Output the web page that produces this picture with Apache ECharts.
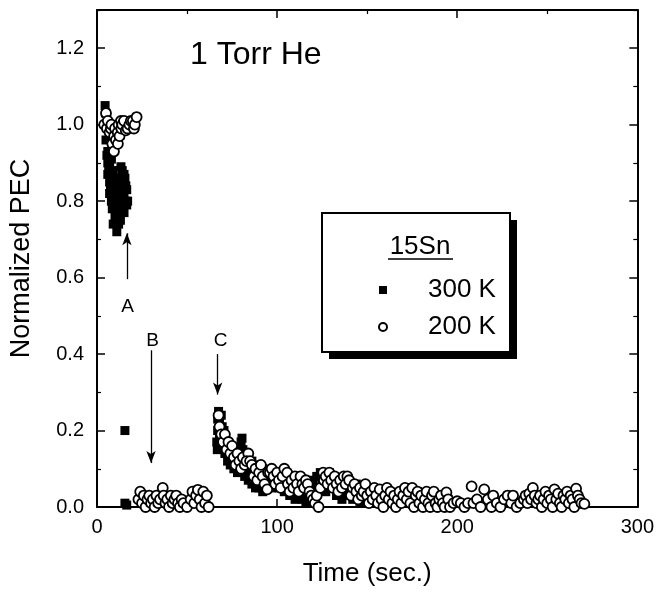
<!DOCTYPE html>
<html><head><meta charset="utf-8">
<script src="https://cdn.jsdelivr.net/npm/echarts@6/dist/echarts.min.js"></script>
<style>html,body{margin:0;padding:0;background:#fff}#c{width:657px;height:592px}</style>
</head><body><div id="c"></div>
<script>
// ---- Data ----
const xTicks = [0, 100, 200, 300];
const yTicks = [0.0, 0.2, 0.4, 0.6, 0.8, 1.0, 1.2];
const seriesNames = ['300 K', '200 K'];
const legendTitle = '15Sn';
const chartNote = '1 Torr He';

// 300 K (filled squares): [time s, normalized PEC]
const pec300K = [
 [4.5,1.05],[5,1.03],[5,0.96],[5.5,0.92],[6,0.90],[6,0.87],[6.5,0.88],[7,0.85],[7,0.82],[7.5,0.84],
 [8,0.80],[8,0.86],[8.5,0.78],[9,0.83],[9,0.74],[9.5,0.80],[10,0.76],[10,0.84],[10.5,0.79],[11,0.82],
 [11,0.72],[11.5,0.77],[12,0.81],[12,0.86],[12.5,0.78],[13,0.83],[13,0.75],[13.3,0.89],[13.5,0.80],[14,0.88],
 [14,0.85],[14.5,0.78],[15,0.82],[15,0.87],[15.5,0.86],[16,0.80],[16,0.84],[16.5,0.83],[17,0.80],
 [6,0.93],[7,0.89],[8,0.91],[9,0.88],[10,0.80],[11,0.86],[12,0.74],[14,0.82],[15,0.77],[16.5,0.79],
 [15.5,0.20],[15.5,0.01],[16.5,0.005],
 [66.5,0.17],[67,0.20],[67,0.23],[67.5,0.25],[68,0.22],[68.5,0.19],[69,0.24],[69.5,0.21],[70,0.18],[70.5,0.20],
 [71,0.16],[72,0.17],[73,0.15],[74,0.16],[75,0.14],[76,0.13],[77,0.15],[78,0.12],[79,0.14],[80,0.17],
 [80.5,0.18],[81,0.15],[81.5,0.12],[82,0.10],[83,0.13],[84,0.11],[85,0.09],[86,0.12],[87,0.10],[88,0.08],
 [66.8,0.15],[68,0.18],[69,0.16],[71,0.14],[72.5,0.12],[74,0.11],[76,0.10],[78,0.09],[80,0.11],[82,0.08],
 [84,0.07],[86,0.06],[88,0.05],[90,0.05],[92,0.04],
 [89,0.11],[90,0.09],[91,0.07],[92,0.10],[93,0.08],[94,0.06],[95,0.09],[96,0.07],[97,0.05],[98,0.08],
 [99,0.06],[100,0.07],[101,0.05],[102,0.08],[103,0.06],[104,0.04],[105,0.07],[106,0.05],[107,0.03],[108,0.06],
 [109,0.04],[110,0.02],[111,0.05],[112,0.03],[113,0.04],[114,0.02],[115,0.03],[116,0.01],[117,0.04],[118,0.06],
 [119,0.03],[120,0.07],[121,0.02],[122,0.08],[123,0.05],[124,0.09],[125,0.06],[126,0.08],[127,0.04],[128,0.07],
 [129,0.09],[130,0.05],[131,0.08],[132,0.06],[133,0.03],[134,0.07],[135,0.05],[136,0.02],[137,0.06],[138,0.04],
 [139,0.07],[140,0.03],[141,0.05],[142,0.02],[143,0.04],[144,0.06],[145,0.03],[146,0.01],[147,0.04],[148,0.02],
 [149,0.05],[150,0.03],[152,0.02],[154,0.04],[156,0.01],[158,0.03],[160,0.02],[162,0.04],[164,0.01],[166,0.03],
 [168,0.02],[170,0.04],[172,0.05],[174,0.03],[176,0.02],[178,0.04],[180,0.01],[182,0.03],[184,0.02],[186,0.01],
 [188,0.03],[190,0.02],[192,0.01],[195,0.02],[198,0.01]
];

// 200 K (open circles): [time s, normalized PEC]
const pec200K = [
 [4,1.00],[5,1.03],[5.5,0.99],[6,1.01],[7,0.98],[7.7,0.99],[8,1.00],[8.5,0.95],[9.4,0.93],[9.5,0.97],
 [10,0.99],[10.5,0.96],[11.6,0.95],[11.5,0.98],[12,1.00],[12.5,0.97],[13.3,1.01],[13.5,0.99],[14,1.00],[15,1.01],
 [16,0.985],[17,0.99],[18,1.00],[18.8,1.01],[19.9,1.01],[20.5,0.99],[21,1.00],[22,1.02],
 [23,0.02],[24,0.04],[25,0.01],[26,0.03],[27,0.00],[28,0.02],[29,0.03],[30,0.01],[31,0.02],[32,0.00],
 [33,0.03],[34,0.01],[35,0.02],[36.5,0.05],[37,0.03],[38,0.01],[39,0.02],[40,0.00],[41,0.03],[42,0.01],
 [43,0.02],[44,0.03],[45,0.01],[46,0.00],[47,0.02],[48,0.01],[50,0.00],[52,0.02],[53,0.04],[54,0.01],
 [55,0.03],[56,0.045],[57,0.02],[58,0.00],[59,0.04],[60,0.01],[61,0.03],[62,0.00],
 [67.5,0.24],[68,0.21],[69,0.19],[70,0.17],[71,0.19],[72,0.15],[73,0.17],[74,0.14],[75,0.16],[76,0.13],
 [77,0.11],[78,0.14],[79,0.12],[80,0.10],[81,0.13],[82,0.11],[84,0.14],[83,0.12],[85,0.12],[86,0.11],
 [87,0.08],[88,0.10],[89,0.07],[90,0.09],[91,0.11],[92,0.08],[93,0.06],[94.5,0.046],[95,0.09],[96,0.09],
 [97,0.10],[98,0.08],[99,0.06],[100,0.09],[101,0.07],[102,0.05],[103,0.08],[104,0.10],[105.6,0.09],[106,0.06],
 [107,0.04],[108,0.07],[109,0.05],[110,0.08],[111,0.06],[112,0.04],[113,0.08],[114,0.06],[115,0.05],[116,0.07],
 [117,0.06],[118,0.04],[119,0.03],[120,0.02],[121,0.01],[122,0.03],[123,0.00],[124,0.05],[125.6,0.09],[126,0.07],
 [127,0.08],[128,0.06],[129,0.09],[130,0.07],[131,0.05],[132,0.08],[133,0.06],[134,0.04],[135,0.07],[136,0.05],
 [137,0.08],[138,0.06],[139,0.08],[140,0.07],[141,0.03],[142,0.05],[143,0.06],[144,0.04],[145,0.02],[146,0.05],
 [147,0.03],[148,0.04],[149,0.06],[150,0.03],[151,0.01],[152,0.04],[153,0.02],[154,0.05],[155,0.03],[156,0.01],
 [157,0.046],[158,0.02],[159,0.00],[160,0.03],[161,0.05],[162,0.02],[163,0.04],[164,0.01],[165,0.03],[166,0.00],
 [167,0.02],[168,0.04],[169,0.01],[170,0.03],[171,0.05],[172,0.02],[173,0.04],[175,0.05],[174,0.01],[176,0.00],
 [177,0.03],[178,0.04],[179,0.01],[180,0.03],[181,0.00],[182,0.02],[183,0.04],[184,0.01],[185,0.00],[186,0.03],
 [187,0.04],[188,0.01],[189,0.00],[190,0.02],[191,0.03],[192,0.01],[193,0.00],[194,0.038],[195,0.02],[196,0.00],
 [198,0.01],[200,0.015],[202,0.01],[204,0.00],[206,0.01],[208,0.054],[209,0.01],[211,0.02],[213,0.00],[215,0.046],
 [217,0.02],[219,0.00],[220,0.03],[222,0.01],[224,0.00],[226,0.02],[228,0.03],[230,0.01],[231,0.03],[233,0.00],
 [235,0.01],[237,0.02],[238,0.03],[239,0.01],[240,0.035],[241,0.02],[242,0.05],[243,0.03],[244,0.01],[245,0.02],
 [246,0.03],[247,0.00],[248,0.02],[249,0.04],[250,0.01],[251,0.03],[252,0.02],[253,0.00],[254,0.046],[255,0.02],
 [256,0.035],[257,0.01],[258,0.00],[259,0.03],[260,0.02],[261,0.04],[262,0.01],[263,0.03],[264,0.02],[265,0.00],
 [266,0.048],[267,0.03],[268,0.02],[269,0.01],[270.6,0.008]
];

// Arrow annotations
const arrowNames = ['A', 'B', 'C'];
const arrowX = [16.6, 30, 67];
const arrowFrom = [0.596, 0.41, 0.40];
const arrowTo = [0.716, 0.115, 0.294];
const arrowLabelPos = [[17, 0.525], [30.8, 0.435], [68.6, 0.435]];

// ---- Chart ----
const FONT = "'Liberation Sans', Arial, Helvetica, sans-serif";
const chart = echarts.init(document.getElementById('c'), null, {renderer: 'canvas'});

const axisCommon = {
  axisLine: {show: true, onZero: false, lineStyle: {color: '#000', width: 2}},
  axisTick: {show: true, inside: true, length: 8, lineStyle: {color: '#000', width: 1.5}},
  minorTick: {show: true, splitNumber: 2, length: 4, lineStyle: {color: '#000', width: 1.2}},
  splitLine: {show: false},
  minorSplitLine: {show: false}
};

const markLineData = arrowNames.map((n, i) => [
  {coord: [arrowX[i], arrowFrom[i]]},
  {coord: [arrowX[i], arrowTo[i]]}
]);

chart.setOption({
  backgroundColor: '#fff',
  animation: false,
  textStyle: {fontFamily: FONT, color: '#000'},
  grid: {left: 96, right: 19, top: 10, bottom: 74, containLabel: false},
  xAxis: [
    Object.assign({}, axisCommon, {
      type: 'value', min: xTicks[0], max: xTicks[xTicks.length - 1], interval: 100,
      position: 'bottom',
      name: 'Time (sec.)', nameLocation: 'middle', nameGap: 54,
      nameTextStyle: {fontSize: 26, color: '#000', fontFamily: FONT},
      axisLabel: {show: true, fontSize: 20, color: '#000', margin: 10, fontFamily: FONT,
        formatter: v => xTicks.includes(v) ? String(v) : ''}
    }),
    Object.assign({}, axisCommon, {
      type: 'value', min: xTicks[0], max: xTicks[xTicks.length - 1], interval: 100,
      position: 'top', axisLabel: {show: false}
    })
  ],
  yAxis: [
    Object.assign({}, axisCommon, {
      type: 'value', min: 0, max: 1.3, interval: 0.2,
      position: 'left',
      name: 'Normalized PEC', nameLocation: 'middle', nameGap: 62,
      nameTextStyle: {fontSize: 27, color: '#000', fontFamily: FONT},
      axisLabel: {show: true, fontSize: 20, color: '#000', margin: 13, fontFamily: FONT,
        showMaxLabel: false,
        formatter: v => yTicks.some(t => Math.abs(t - v) < 1e-9) ? v.toFixed(1) : ''}
    }),
    Object.assign({}, axisCommon, {
      type: 'value', min: 0, max: 1.3, interval: 0.2,
      position: 'right', axisLabel: {show: false}
    })
  ],
  legend: {
    data: seriesNames,
    orient: 'vertical',
    left: 373, top: 270,
    itemWidth: 8, itemHeight: 8, itemGap: 7,
    z: 10,
    selectedMode: false,
    textStyle: {fontSize: 26, color: '#000', fontFamily: FONT, lineHeight: 30, padding: [0, 0, 0, 36]}
  },
  graphic: [
    {type: 'rect', z: 3, shape: {x: 329, y: 220, width: 188, height: 139}, style: {fill: '#000'}},
    {type: 'rect', z: 3, shape: {x: 322, y: 213, width: 188, height: 139}, style: {fill: '#fff', stroke: '#000', lineWidth: 2}},
    {type: 'text', z: 5, style: {text: legendTitle, x: 420, y: 247, textAlign: 'center', textVerticalAlign: 'middle',
      font: '26px ' + FONT, fill: '#000'}},
    {type: 'line', z: 5, shape: {x1: 388, y1: 259, x2: 453, y2: 259}, style: {stroke: '#000', lineWidth: 1.5}},
    {type: 'text', z: 5, style: {text: chartNote, x: 190, y: 55, textAlign: 'left', textVerticalAlign: 'middle',
      font: '32px ' + FONT, fill: '#000'}}
  ],
  series: [
    {
      name: seriesNames[0], type: 'scatter', symbol: 'rect', symbolSize: 9,
      xAxisIndex: 0, yAxisIndex: 0, z: 2,
      itemStyle: {color: '#000', opacity: 1},
      data: pec300K
    },
    {
      name: seriesNames[1], type: 'scatter', symbol: 'circle', symbolSize: 10,
      xAxisIndex: 0, yAxisIndex: 0, z: 3,
      itemStyle: {color: '#fff', borderColor: '#000', borderWidth: 1.8, opacity: 1},
      data: pec200K
    },
    {
      name: 'annotations', type: 'scatter', symbolSize: 0, z: 4, silent: true,
      xAxisIndex: 0, yAxisIndex: 0,
      itemStyle: {color: '#000', opacity: 1},
      label: {show: true, position: 'inside', fontSize: 19, color: '#000', opacity: 1, fontFamily: FONT,
        formatter: p => p.name},
      data: arrowNames.map((n, i) => ({name: n, value: arrowLabelPos[i]})),
      markLine: {
        silent: true, symbol: ['none', 'arrow'], symbolSize: [7, 12],
        label: {show: false},
        lineStyle: {color: '#000', width: 1.3, type: 'solid', opacity: 1},
        data: markLineData
      }
    }
  ]
});
</script>
</body></html>
